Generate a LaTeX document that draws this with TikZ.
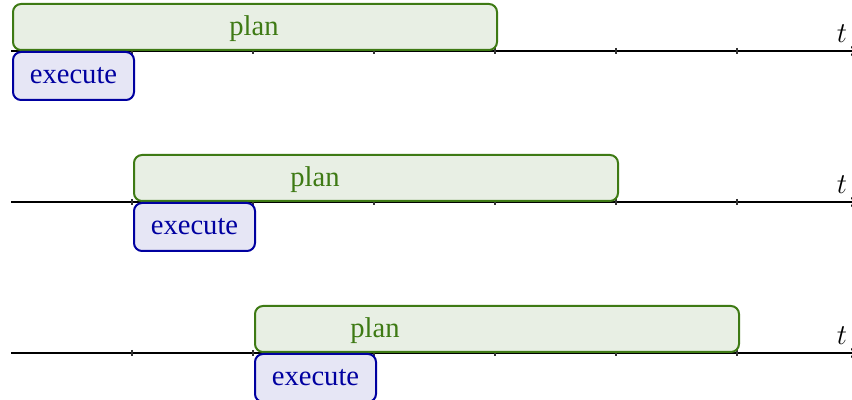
\documentclass[tikz,border=0pt]{standalone}
\usepackage{fontspec}
\setmainfont{Liberation Serif}
\usetikzlibrary{arrows.meta}
\definecolor{planline}{RGB}{62,122,20}
\definecolor{planfill}{RGB}{232,239,228}
\definecolor{execline}{RGB}{0,0,160}
\definecolor{execfill}{RGB}{230,230,245}
\begin{document}
\begin{tikzpicture}[x=0.5pt,y=-0.5pt,
  axisline/.style={line width=1pt,-{To[length=3pt,width=5pt]}},
  tickmark/.style={line width=0.6pt,draw=black!80},
  planbox/.style={draw=planline,fill=planfill,line width=1pt,rounded corners=4pt,
    minimum width=242pt,minimum height=23pt,inner sep=0pt,anchor=south west},
  execbox/.style={draw=execline,fill=execfill,line width=1pt,rounded corners=4pt,
    minimum width=60.5pt,minimum height=24pt,inner sep=0pt,anchor=north west,
    text=execline,font=\fontsize{14.3}{17}\selectfont},
  plantext/.style={text=planline,font=\fontsize{14.3}{17}\selectfont,inner sep=0pt},
  tlabel/.style={font=\fontsize{14}{17}\selectfont,inner sep=0pt,anchor=south}]
\useasboundingbox (0,0) rectangle (852,400);
\foreach \r/\y/\s/\px in {1/51/0/254, 2/202/1/315, 3/353/2/375}{
  % time axis with ticks
  \coordinate (a\r) at (11,\y);
  \coordinate (b\r) at (857,\y);
  \draw[axisline] (a\r) -- (b\r);
  \foreach \k in {1,...,6}
    \draw[tickmark] ({11+121*\k},\y-3) -- ({11+121*\k},\y+3);
  \node[tlabel] (t\r) at (842,\y-8) {$t$};
  % plan and execute phases
  \node[planbox] (plan\r) at ({12+121*\s},\y) {};
  \node[plantext] (pt\r) at (\px,\y-22) {plan};
  \node[execbox] (exec\r) at ({12+121*\s},\y) {execute};
}
\end{tikzpicture}
\end{document}
